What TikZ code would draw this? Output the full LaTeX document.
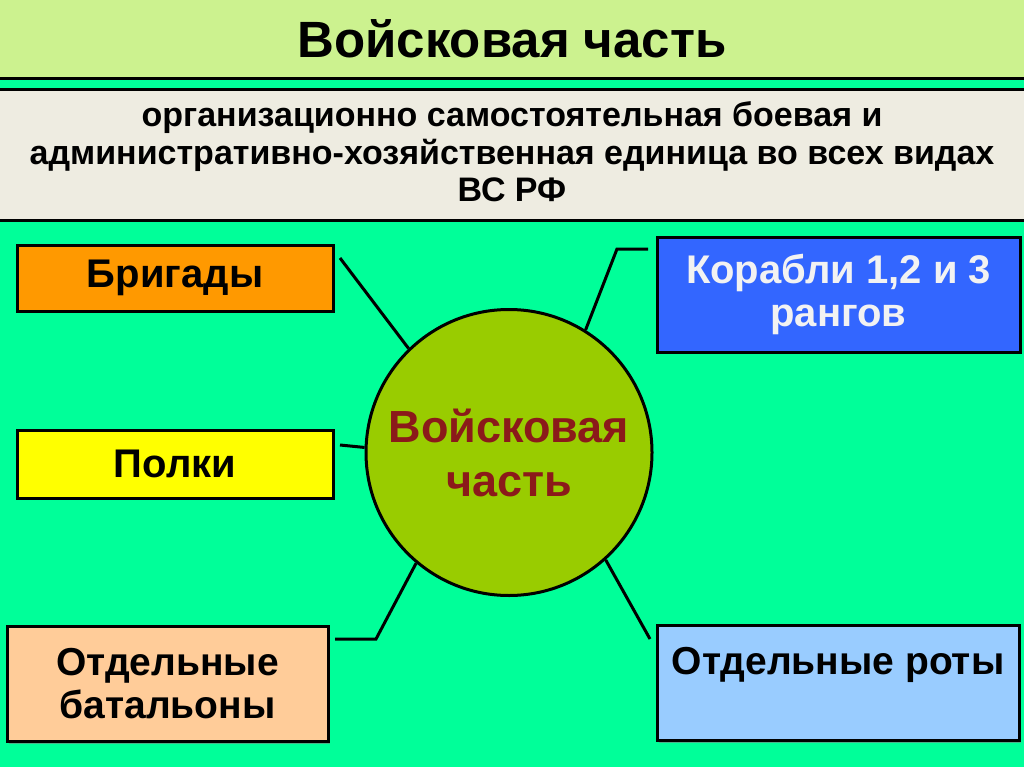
\documentclass[tikz,border=0pt]{standalone}
\usepackage{fontspec}
\setmainfont{Liberation Sans}
\usetikzlibrary{shadows}
\definecolor{bggreen}{RGB}{0,255,153}
\definecolor{headgreen}{RGB}{204,242,143}
\definecolor{bandgray}{RGB}{238,236,225}
\definecolor{brigorange}{RGB}{255,153,0}
\definecolor{polkyellow}{RGB}{255,255,0}
\definecolor{korblue}{RGB}{51,102,255}
\definecolor{batpeach}{RGB}{255,204,153}
\definecolor{rotblue}{RGB}{153,204,255}
\definecolor{vchgreen}{RGB}{153,204,0}
\definecolor{vchred}{RGB}{139,26,26}
\begin{document}
\begin{tikzpicture}[x=1pt,y=-1pt,
  unitbox/.style={draw, line width=3pt, rectangle, align=center, inner sep=0pt,
    font=\fontsize{40}{43}\selectfont\bfseries,
    drop shadow={shadow xshift=2pt, shadow yshift=-2pt, opacity=0.6}},
  link/.style={line width=3pt}]
\useasboundingbox (0,0) rectangle (1024,767);
\fill[bggreen] (0,0) rectangle (1024,767);
\fill[headgreen] (0,0) rectangle (1024,78);
\draw[line width=3pt] (0,78.5) -- (1024,78.5);
\fill[bandgray] (0,90) rectangle (1024,220.5);
\draw[line width=3pt] (0,90) -- (1024,90);
\draw[line width=3pt] (0,220.5) -- (1024,220.5);
\node[font=\fontsize{51}{60}\selectfont\bfseries, anchor=base] (title) at (512,58) {Войсковая часть};
\node[font=\fontsize{34}{37.5}\selectfont\bfseries, align=center] (defn) at (512,152) {организационно самостоятельная боевая и\\административно-хозяйственная единица во всех видах\\ВС РФ};
\node[unitbox, fill=brigorange, minimum width=316, minimum height=66] (brig) at (175,278) {Бригады};
\node[unitbox, fill=polkyellow, minimum width=316, minimum height=68] (polk) at (175,464) {Полки};
\node[unitbox, fill=korblue, text=white!95!black, minimum width=363, minimum height=115] (korab) at (838.5,294.5) {Корабли 1,2 и 3\\рангов};
\node[unitbox, fill=batpeach, minimum width=321, minimum height=115, font=\fontsize{39}{43}\selectfont\bfseries] (batal) at (167.5,684) {Отдельные\\батальоны};
\node[unitbox, fill=rotblue, minimum width=362, minimum height=115, font=\fontsize{39}{43}\selectfont\bfseries] (roty) at (838,683) {Отдельные роты\\\phantom{батальоны}};
\node[circle, draw, line width=3pt, fill=vchgreen, minimum size=286, text=vchred, align=center,
  font=\fontsize{45}{54}\selectfont\bfseries] (vch) at (509,452.5) {Войсковая\\часть};
\coordinate (brigend) at (340,258);
\coordinate (polkend) at (340,445);
\coordinate (korabend) at (648,249);
\coordinate (korabbend) at (617,249);
\coordinate (batalend) at (335,639);
\coordinate (batalbend) at (376,639);
\coordinate (rotyend) at (650,639);
\draw[link] (brigend) -- (vch.134);
\draw[link] (polkend) -- (vch.178);
\draw[link] (korabend) -- (korabbend) -- (vch.58);
\draw[link] (batalend) -- (batalbend) -- (vch.230);
\draw[link] (vch.312) -- (rotyend);
\end{tikzpicture}
\end{document}
